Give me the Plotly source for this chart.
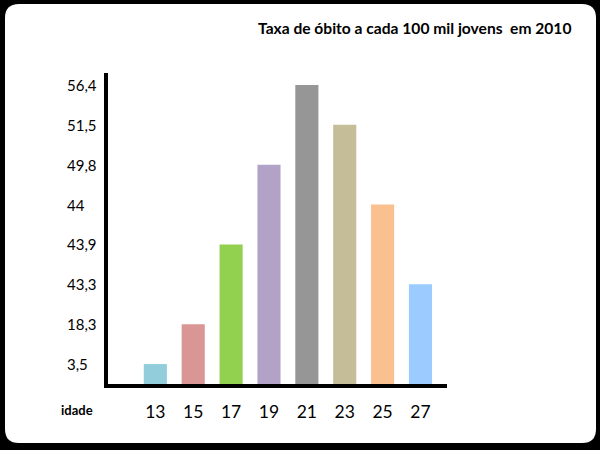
import plotly.graph_objects as go

# Data
ages = [13, 15, 17, 19, 21, 23, 25, 27]
rates = [3.5, 18.3, 43.9, 49.8, 56.4, 51.5, 44.0, 43.3]
# Y tick labels, in the order they appear from bottom to top (ordinal scale)
ytick_values = [3.5, 18.3, 43.3, 43.9, 44.0, 49.8, 51.5, 56.4]
ytick_labels = ["3,5", "18,3", "43,3", "43,9", "44", "49,8", "51,5", "56,4"]
xtick_labels = [str(a) for a in ages]
bar_colors = ["#92CDDC", "#D99694", "#92D050", "#B3A2C7",
              "#969696", "#C4BD97", "#FAC090", "#9BCBFF"]
title_text = "Taxa de óbito a cada 100 mil jovens  em 2010"
xlabel_text = "idade"

# ordinal position of each value on the labelled axis
ypos = [ytick_values.index(v) + 1 for v in rates]
tick_pos = list(range(1, len(ytick_values) + 1))

W, H = 600, 450
L, R, T, B = 108, 447, 73, 384  # plot area in px


def px(x):
    return (x - L) / (R - L)


def py(y):
    return (B - y) / (B - T)


fig = go.Figure()
fig.add_trace(go.Bar(
    x=ages, y=ypos, width=1.22,
    marker=dict(color=bar_colors, line=dict(width=0)),
    hoverinfo="skip",
))

# white rounded card on black frame
x0, x1, y0, y1, r = 5, 596, 4, 443, 14
path = (f"M {px(x0+r)},{py(y0)} L {px(x1-r)},{py(y0)} "
        f"Q {px(x1)},{py(y0)} {px(x1)},{py(y0+r)} "
        f"L {px(x1)},{py(y1-r)} Q {px(x1)},{py(y1)} {px(x1-r)},{py(y1)} "
        f"L {px(x0+r)},{py(y1)} Q {px(x0)},{py(y1)} {px(x0)},{py(y1-r)} "
        f"L {px(x0)},{py(y0+r)} Q {px(x0)},{py(y0)} {px(x0+r)},{py(y0)} Z")

shapes = [dict(type="path", path=path, xref="paper", yref="paper",
               fillcolor="white", line=dict(width=0), layer="below")]

annotations = []
for p, lab in zip(tick_pos, ytick_labels):
    annotations.append(dict(text=lab, x=px(65), xref="paper", y=p, yref="y",
                            xanchor="left", yanchor="middle", showarrow=False,
                            font=dict(family="Lato", size=15, color="black")))
annotations.append(dict(text=f"<b>{xlabel_text}</b>", x=px(77), y=py(410),
                        xref="paper", yref="paper", xanchor="center",
                        yanchor="middle", showarrow=False,
                        font=dict(family="Lato", size=13, color="black")))
annotations.append(dict(text=f"<b>{title_text}</b>", x=px(256), y=py(28),
                        xref="paper", yref="paper", xanchor="left",
                        yanchor="middle", showarrow=False,
                        font=dict(family="Lato", size=15.6, color="black")))

fig.update_layout(
    width=W, height=H,
    margin=dict(l=L, r=W - R, t=T, b=H - B, pad=0),
    paper_bgcolor="black", plot_bgcolor="rgba(0,0,0,0)",
    showlegend=False,
    shapes=shapes, annotations=annotations,
    xaxis=dict(range=[10.5, 28.4], tickvals=ages, ticktext=xtick_labels,
               showgrid=False, zeroline=False, showline=True,
               linecolor="black", linewidth=4, ticks="",
               ticklabelstandoff=9,
               tickfont=dict(family="Lato", size=17.5, color="black")),
    yaxis=dict(range=[0.5, 8.3], showticklabels=False, showgrid=False,
               zeroline=False, showline=True, linecolor="black",
               linewidth=4, ticks=""),
)

fig.write_html("out.html")
